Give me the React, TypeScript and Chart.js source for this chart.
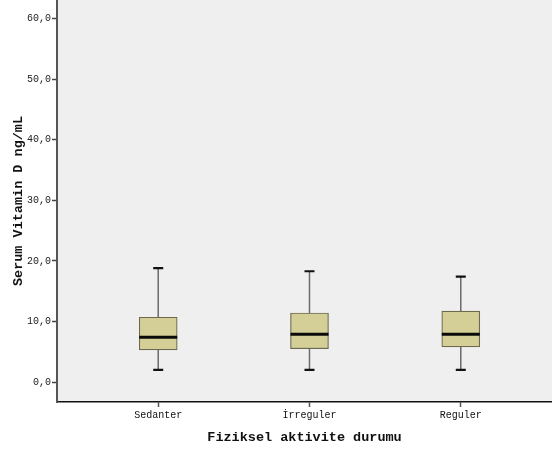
import React, { useEffect, useRef } from "react";
import { Chart, registerables } from "chart.js";

Chart.register(...registerables);

const categories = ["Sedanter", "İrreguler", "Reguler"];
const whiskerLow = [2.0, 2.0, 2.0];
const q1 = [5.3, 5.5, 5.8];
const median = [7.4, 7.9, 7.9];
const q3 = [10.7, 11.4, 11.7];
const whiskerHigh = [18.8, 18.3, 17.4];
const yTicks = [0, 10, 20, 30, 40, 50, 60];

const boxPlugin = {
  id: "boxWhiskers",
  afterDatasetsDraw(chart: any) {
    const { ctx } = chart;
    const xs = chart.scales.x;
    const ys = chart.scales.y;
    ctx.save();
    categories.forEach((_, i) => {
      const cx = xs.getPixelForValue(i + 1);
      const halfBox = 19;
      const cap = 5;
      const yLo = ys.getPixelForValue(whiskerLow[i]);
      const yQ1 = ys.getPixelForValue(q1[i]);
      const yQ3 = ys.getPixelForValue(q3[i]);
      const yHi = ys.getPixelForValue(whiskerHigh[i]);
      const yMed = ys.getPixelForValue(median[i]);
      ctx.strokeStyle = "#6b6b6b";
      ctx.lineWidth = 1.5;
      ctx.beginPath();
      ctx.moveTo(cx, yHi);
      ctx.lineTo(cx, yQ3);
      ctx.moveTo(cx, yQ1);
      ctx.lineTo(cx, yLo);
      ctx.stroke();
      ctx.strokeStyle = "#111";
      ctx.lineWidth = 2.2;
      ctx.beginPath();
      ctx.moveTo(cx - cap, yHi);
      ctx.lineTo(cx + cap, yHi);
      ctx.moveTo(cx - cap, yLo);
      ctx.lineTo(cx + cap, yLo);
      ctx.stroke();
      ctx.strokeStyle = "#0a0a0a";
      ctx.lineWidth = 3;
      ctx.beginPath();
      ctx.moveTo(cx - halfBox, yMed);
      ctx.lineTo(cx + halfBox, yMed);
      ctx.stroke();
    });
    ctx.restore();
  },
};

const bgPlugin = {
  id: "plotBg",
  beforeDraw(chart: any) {
    const { ctx, chartArea } = chart;
    ctx.save();
    ctx.fillStyle = "#efefef";
    ctx.fillRect(chartArea.left, chartArea.top, chartArea.right - chartArea.left, chartArea.bottom - chartArea.top);
    ctx.restore();
  },
};

export default function App() {
  const ref = useRef<HTMLCanvasElement>(null);
  useEffect(() => {
    if (!ref.current) return;
    const chart = new Chart(ref.current, {
      type: "bar",
      data: {
        datasets: [
          {
            data: categories.map((_, i) => ({ x: i + 1, y: [q1[i], q3[i]] })) as any,
            backgroundColor: "#d3cf97",
            borderColor: "#6e6a50",
            borderWidth: 1.2,
            borderSkipped: false,
            barThickness: 38,
          },
        ],
      },
      options: {
        animation: false,
        responsive: false,
        maintainAspectRatio: false,
        layout: { padding: 0 },
        plugins: { legend: { display: false }, tooltip: { enabled: false } },
        scales: {
          x: {
            type: "linear",
            offset: false,
            min: 0.331,
            max: 3.603,
            afterBuildTicks: (s: any) => {
              s.ticks = categories.map((_, i) => ({ value: i + 1 }));
            },
            afterFit: (s: any) => {
              s.height = 48;
              s.paddingLeft = 0;
              s.paddingRight = 0;
            },
            grid: { offset: false, drawOnChartArea: false, drawTicks: true, tickLength: 5, tickColor: "#555", tickWidth: 1.5 },
            border: { display: true, color: "#111", width: 1.5 },
            ticks: {
              callback: (v: any) => categories[Math.round(v) - 1] ?? "",
              font: { family: "'Liberation Mono', monospace", size: 10 },
              color: "#111",
              padding: 2,
              maxRotation: 0,
              autoSkip: false,
            },
            title: {
              display: true,
              text: "Fiziksel aktivite durumu",
              font: { family: "'Liberation Mono', monospace", size: 13.5, weight: "bold" },
              color: "#111",
              padding: { top: 0, bottom: 4 },
            },
          },
          y: {
            min: -3.3,
            max: 63.1,
            afterBuildTicks: (s: any) => {
              s.ticks = yTicks.map((v) => ({ value: v }));
            },
            afterFit: (s: any) => {
              s.width = 57;
              s.paddingTop = 0;
              s.paddingBottom = 0;
            },
            grid: { drawOnChartArea: false, drawTicks: true, tickLength: 5, tickColor: "#444", tickWidth: 1.5 },
            border: { display: true, color: "#555", width: 2 },
            ticks: {
              callback: (v: any) => Number(v).toFixed(1).replace(".", ","),
              font: { family: "'Liberation Mono', monospace", size: 10 },
              color: "#222",
              padding: 1,
            },
            title: {
              display: true,
              text: "Serum Vitamin D ng/mL",
              font: { family: "'Liberation Mono', monospace", size: 13.5, weight: "bold" },
              color: "#111",
              padding: { top: 10, bottom: 0 },
            },
          },
        },
      },
      plugins: [bgPlugin, boxPlugin],
    });
    return () => chart.destroy();
  }, []);
  return (
    <div style={{ position: "fixed", left: 0, top: 0, width: 552, height: 450, background: "#fff" }}>
      <canvas ref={ref} width={552} height={450} />
    </div>
  );
}
